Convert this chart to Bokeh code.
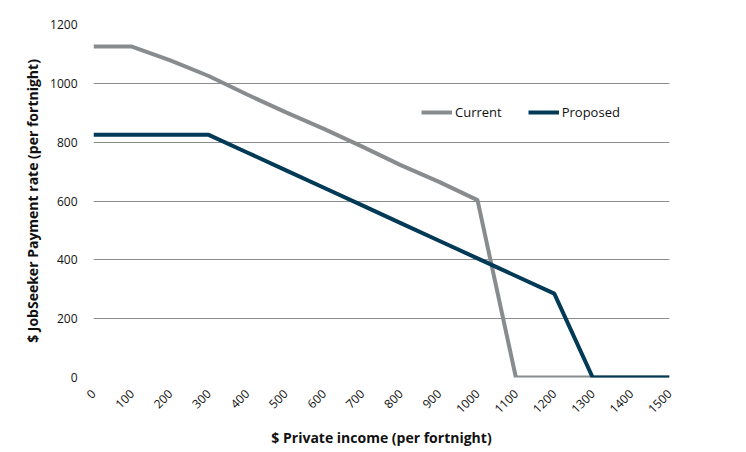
import math
from bokeh.plotting import figure
from bokeh.models import Range1d, Legend, LegendItem, FixedTicker
from bokeh.embed import file_html
from bokeh.resources import INLINE

income = [0, 100, 200, 300, 400, 500, 600, 700, 800, 900, 1000, 1100, 1200, 1300, 1400, 1500]
current = [1125, 1125, 1078, 1025, 962, 902, 845, 785, 722, 665, 603, 0, 0, 0, 0, 0]
proposed = [825, 825, 825, 825, 765, 705, 645, 585, 525, 465, 405, 345, 285, 0, 0, 0]
y_ticks = [0, 200, 400, 600, 800, 1000, 1200]

FONT = "Open Sans"

p = figure(frame_width=576, frame_height=353, output_backend="svg", toolbar_location=None,
           x_range=Range1d(0, 1500), y_range=Range1d(0, 1200),
           min_border_left=93, min_border_right=69, min_border_top=24, min_border_bottom=60)
p.outline_line_color = None
p.background_fill_color = "white"

r1 = p.line(income, current, line_color="#898C8E", line_width=4)
r2 = p.line(income, proposed, line_color="#003A56", line_width=4)

p.xaxis.ticker = FixedTicker(ticks=income)
p.yaxis.ticker = FixedTicker(ticks=y_ticks)
p.xgrid.grid_line_color = None
p.ygrid.grid_line_color = "#8C8C8C"
p.ygrid.grid_line_width = 1

for ax in (p.xaxis[0], p.yaxis[0]):
    ax.axis_line_color = None
    ax.major_tick_line_color = None
    ax.minor_tick_line_color = None
    ax.major_label_text_font = FONT
    ax.major_label_text_font_size = "12px"
    ax.major_label_text_color = "#111111"
    ax.axis_label_text_font = FONT
    ax.axis_label_text_font_size = "14px"
    ax.axis_label_text_font_style = "bold"
    ax.axis_label_text_color = "#111111"

p.xaxis.major_label_orientation = math.pi / 4
p.xaxis.axis_label = "$ Private income (per fortnight)"
p.yaxis.axis_label = "$ JobSeeker Payment rate (per fortnight)"
p.yaxis.major_label_standoff = 10
p.xaxis.major_label_standoff = 8
p.xaxis.axis_label_standoff = 8

legend = Legend(items=[LegendItem(label="Current", renderers=[r1]),
                       LegendItem(label="Proposed", renderers=[r2])],
                orientation="horizontal", location=(328, 255))
legend.border_line_color = None
legend.background_fill_alpha = 0
legend.padding = 0
legend.margin = 0
legend.spacing = 26
legend.glyph_width = 31
legend.label_standoff = 3
legend.label_text_font = FONT
legend.label_text_font_size = "13px"
legend.label_text_color = "#111111"
p.add_layout(legend, "center")

open("out.html", "w").write(file_html(p, INLINE))
